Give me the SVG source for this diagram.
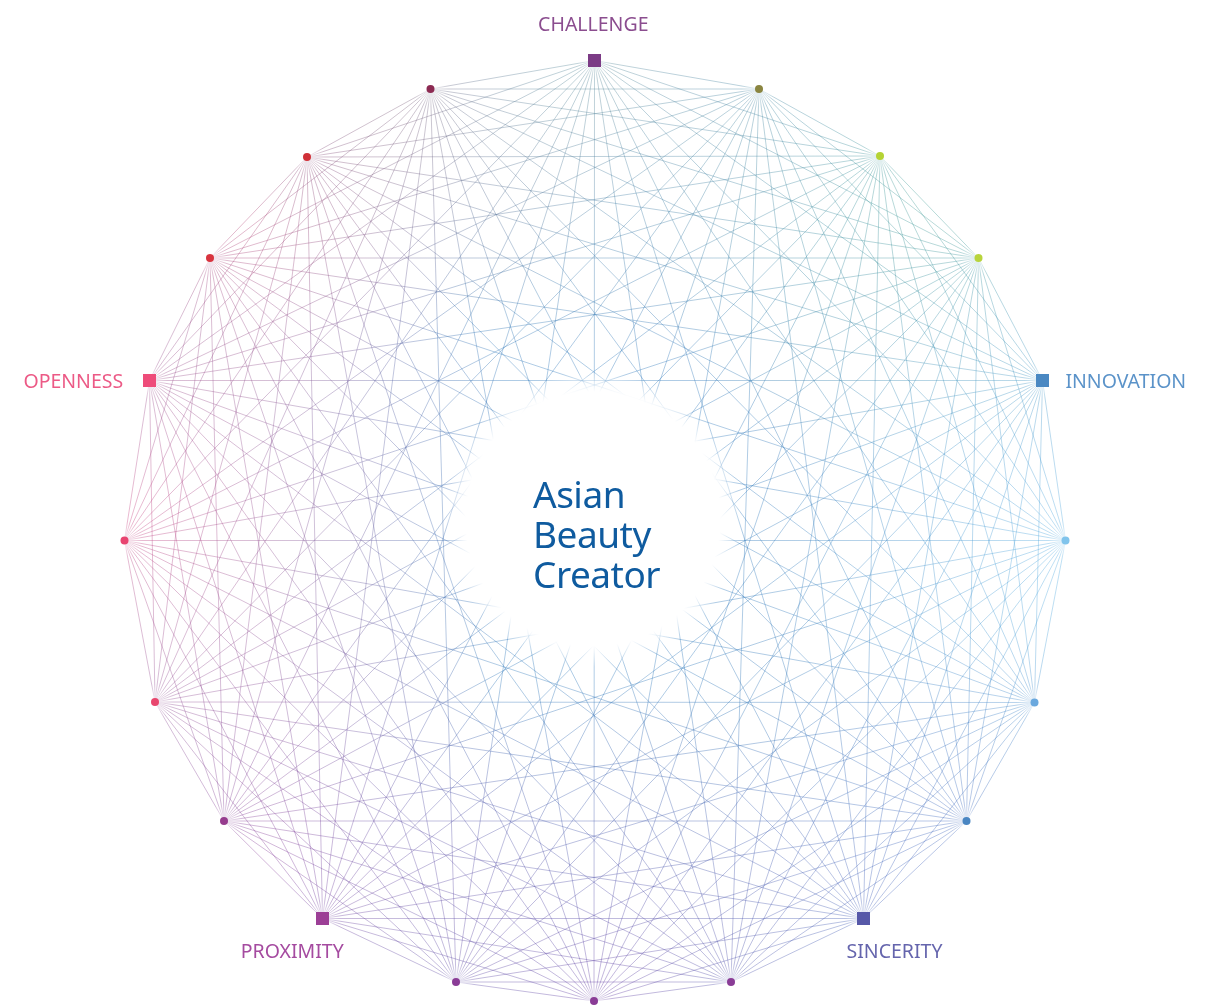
<svg xmlns="http://www.w3.org/2000/svg" width="1216" height="1006" viewBox="0 0 1216 1006">
<style>
.c path{fill:none;stroke:#000;stroke-opacity:.46;stroke-width:.85}
.lbl{font-family:"Noto Sans","Open Sans","DejaVu Sans",sans-serif;font-size:19.5px;text-anchor:middle}
.core{font-family:"Noto Sans","Open Sans","DejaVu Sans",sans-serif;font-size:37px;letter-spacing:-0.5px;fill:#0f5b9f}
.pf{fill:url(#pf)}
</style>
<defs>
<radialGradient id="hole"><stop offset=".86" stop-color="#fff"/><stop offset="1" stop-color="#fff" stop-opacity="0"/></radialGradient>
<radialGradient id="pf"><stop offset="0" stop-color="#fff" stop-opacity=".85"/><stop offset="1" stop-color="#fff" stop-opacity="0"/></radialGradient>
<radialGradient id="gT"><stop offset="0" stop-color="#5f8f9c"/><stop offset="1" stop-color="#5f8f9c" stop-opacity="0"/></radialGradient>
<radialGradient id="gTL"><stop offset="0" stop-color="#9a5072"/><stop offset="1" stop-color="#9a5072" stop-opacity="0"/></radialGradient>
<radialGradient id="gL"><stop offset="0" stop-color="#cc4a86"/><stop offset="1" stop-color="#cc4a86" stop-opacity="0"/></radialGradient>
<radialGradient id="gUL"><stop offset="0" stop-color="#c04a7c"/><stop offset="1" stop-color="#c04a7c" stop-opacity="0"/></radialGradient>
<radialGradient id="gBL"><stop offset="0" stop-color="#8c3c9c"/><stop offset="1" stop-color="#8c3c9c" stop-opacity="0"/></radialGradient>
<radialGradient id="gB"><stop offset="0" stop-color="#6c40a4"/><stop offset="1" stop-color="#6c40a4" stop-opacity="0"/></radialGradient>
<radialGradient id="gBR"><stop offset="0" stop-color="#4c68c0"/><stop offset="1" stop-color="#4c68c0" stop-opacity="0"/></radialGradient>
<radialGradient id="gR"><stop offset="0" stop-color="#5cb4e6"/><stop offset="1" stop-color="#5cb4e6" stop-opacity="0"/></radialGradient>
<radialGradient id="gTR"><stop offset="0" stop-color="#4aa496"/><stop offset="1" stop-color="#4aa496" stop-opacity="0"/></radialGradient>
<radialGradient id="gC"><stop offset="0" stop-color="#2c80c4"/><stop offset="1" stop-color="#2c80c4" stop-opacity="0"/></radialGradient>
</defs>
<rect width="1216" height="1006" fill="#fff"/>
<g id="connectors" class="c">
<path d="M594.5 60.5L759 89"/>
<path d="M594.5 60.5L880 156"/>
<path d="M594.5 60.5L978.5 258"/>
<path d="M594.5 60.5L1042.5 380.5"/>
<path d="M594.5 60.5L1065.5 540.5"/>
<path d="M594.5 60.5L1034.5 702.5"/>
<path d="M594.5 60.5L966.5 821"/>
<path d="M594.5 60.5L863.5 918.5"/>
<path d="M594.5 60.5L731 982"/>
<path d="M594.5 60.5L594 1001"/>
<path d="M594.5 60.5L456 982"/>
<path d="M594.5 60.5L322.5 918.5"/>
<path d="M594.5 60.5L224 821"/>
<path d="M594.5 60.5L155 702"/>
<path d="M594.5 60.5L124.5 540.5"/>
<path d="M594.5 60.5L149.5 380.5"/>
<path d="M594.5 60.5L210 258"/>
<path d="M594.5 60.5L307 157"/>
<path d="M594.5 60.5L430.5 89"/>
<path d="M759 89L880 156"/>
<path d="M759 89L978.5 258"/>
<path d="M759 89L1042.5 380.5"/>
<path d="M759 89L1065.5 540.5"/>
<path d="M759 89L1034.5 702.5"/>
<path d="M759 89L966.5 821"/>
<path d="M759 89L863.5 918.5"/>
<path d="M759 89L731 982"/>
<path d="M759 89L594 1001"/>
<path d="M759 89L456 982"/>
<path d="M759 89L322.5 918.5"/>
<path d="M759 89L224 821"/>
<path d="M759 89L155 702"/>
<path d="M759 89L124.5 540.5"/>
<path d="M759 89L149.5 380.5"/>
<path d="M759 89L210 258"/>
<path d="M759 89L307 157"/>
<path d="M759 89L430.5 89"/>
<path d="M880 156L978.5 258"/>
<path d="M880 156L1042.5 380.5"/>
<path d="M880 156L1065.5 540.5"/>
<path d="M880 156L1034.5 702.5"/>
<path d="M880 156L966.5 821"/>
<path d="M880 156L863.5 918.5"/>
<path d="M880 156L731 982"/>
<path d="M880 156L594 1001"/>
<path d="M880 156L456 982"/>
<path d="M880 156L322.5 918.5"/>
<path d="M880 156L224 821"/>
<path d="M880 156L155 702"/>
<path d="M880 156L124.5 540.5"/>
<path d="M880 156L149.5 380.5"/>
<path d="M880 156L210 258"/>
<path d="M880 156L307 157"/>
<path d="M880 156L430.5 89"/>
<path d="M978.5 258L1042.5 380.5"/>
<path d="M978.5 258L1065.5 540.5"/>
<path d="M978.5 258L1034.5 702.5"/>
<path d="M978.5 258L966.5 821"/>
<path d="M978.5 258L863.5 918.5"/>
<path d="M978.5 258L731 982"/>
<path d="M978.5 258L594 1001"/>
<path d="M978.5 258L456 982"/>
<path d="M978.5 258L322.5 918.5"/>
<path d="M978.5 258L224 821"/>
<path d="M978.5 258L155 702"/>
<path d="M978.5 258L124.5 540.5"/>
<path d="M978.5 258L149.5 380.5"/>
<path d="M978.5 258L210 258"/>
<path d="M978.5 258L307 157"/>
<path d="M978.5 258L430.5 89"/>
<path d="M1042.5 380.5L1065.5 540.5"/>
<path d="M1042.5 380.5L1034.5 702.5"/>
<path d="M1042.5 380.5L966.5 821"/>
<path d="M1042.5 380.5L863.5 918.5"/>
<path d="M1042.5 380.5L731 982"/>
<path d="M1042.5 380.5L594 1001"/>
<path d="M1042.5 380.5L456 982"/>
<path d="M1042.5 380.5L322.5 918.5"/>
<path d="M1042.5 380.5L224 821"/>
<path d="M1042.5 380.5L155 702"/>
<path d="M1042.5 380.5L124.5 540.5"/>
<path d="M1042.5 380.5L149.5 380.5"/>
<path d="M1042.5 380.5L210 258"/>
<path d="M1042.5 380.5L307 157"/>
<path d="M1042.5 380.5L430.5 89"/>
<path d="M1065.5 540.5L1034.5 702.5"/>
<path d="M1065.5 540.5L966.5 821"/>
<path d="M1065.5 540.5L863.5 918.5"/>
<path d="M1065.5 540.5L731 982"/>
<path d="M1065.5 540.5L594 1001"/>
<path d="M1065.5 540.5L456 982"/>
<path d="M1065.5 540.5L322.5 918.5"/>
<path d="M1065.5 540.5L224 821"/>
<path d="M1065.5 540.5L155 702"/>
<path d="M1065.5 540.5L124.5 540.5"/>
<path d="M1065.5 540.5L149.5 380.5"/>
<path d="M1065.5 540.5L210 258"/>
<path d="M1065.5 540.5L307 157"/>
<path d="M1065.5 540.5L430.5 89"/>
<path d="M1034.5 702.5L966.5 821"/>
<path d="M1034.5 702.5L863.5 918.5"/>
<path d="M1034.5 702.5L731 982"/>
<path d="M1034.5 702.5L594 1001"/>
<path d="M1034.5 702.5L456 982"/>
<path d="M1034.5 702.5L322.5 918.5"/>
<path d="M1034.5 702.5L224 821"/>
<path d="M1034.5 702.5L155 702"/>
<path d="M1034.5 702.5L124.5 540.5"/>
<path d="M1034.5 702.5L149.5 380.5"/>
<path d="M1034.5 702.5L210 258"/>
<path d="M1034.5 702.5L307 157"/>
<path d="M1034.5 702.5L430.5 89"/>
<path d="M966.5 821L863.5 918.5"/>
<path d="M966.5 821L731 982"/>
<path d="M966.5 821L594 1001"/>
<path d="M966.5 821L456 982"/>
<path d="M966.5 821L322.5 918.5"/>
<path d="M966.5 821L224 821"/>
<path d="M966.5 821L155 702"/>
<path d="M966.5 821L124.5 540.5"/>
<path d="M966.5 821L149.5 380.5"/>
<path d="M966.5 821L210 258"/>
<path d="M966.5 821L307 157"/>
<path d="M966.5 821L430.5 89"/>
<path d="M863.5 918.5L731 982"/>
<path d="M863.5 918.5L594 1001"/>
<path d="M863.5 918.5L456 982"/>
<path d="M863.5 918.5L322.5 918.5"/>
<path d="M863.5 918.5L224 821"/>
<path d="M863.5 918.5L155 702"/>
<path d="M863.5 918.5L124.5 540.5"/>
<path d="M863.5 918.5L149.5 380.5"/>
<path d="M863.5 918.5L210 258"/>
<path d="M863.5 918.5L307 157"/>
<path d="M863.5 918.5L430.5 89"/>
<path d="M731 982L594 1001"/>
<path d="M731 982L456 982"/>
<path d="M731 982L322.5 918.5"/>
<path d="M731 982L224 821"/>
<path d="M731 982L155 702"/>
<path d="M731 982L124.5 540.5"/>
<path d="M731 982L149.5 380.5"/>
<path d="M731 982L210 258"/>
<path d="M731 982L307 157"/>
<path d="M731 982L430.5 89"/>
<path d="M594 1001L456 982"/>
<path d="M594 1001L322.5 918.5"/>
<path d="M594 1001L224 821"/>
<path d="M594 1001L155 702"/>
<path d="M594 1001L124.5 540.5"/>
<path d="M594 1001L149.5 380.5"/>
<path d="M594 1001L210 258"/>
<path d="M594 1001L307 157"/>
<path d="M594 1001L430.5 89"/>
<path d="M456 982L322.5 918.5"/>
<path d="M456 982L224 821"/>
<path d="M456 982L155 702"/>
<path d="M456 982L124.5 540.5"/>
<path d="M456 982L149.5 380.5"/>
<path d="M456 982L210 258"/>
<path d="M456 982L307 157"/>
<path d="M456 982L430.5 89"/>
<path d="M322.5 918.5L224 821"/>
<path d="M322.5 918.5L155 702"/>
<path d="M322.5 918.5L124.5 540.5"/>
<path d="M322.5 918.5L149.5 380.5"/>
<path d="M322.5 918.5L210 258"/>
<path d="M322.5 918.5L307 157"/>
<path d="M322.5 918.5L430.5 89"/>
<path d="M224 821L155 702"/>
<path d="M224 821L124.5 540.5"/>
<path d="M224 821L149.5 380.5"/>
<path d="M224 821L210 258"/>
<path d="M224 821L307 157"/>
<path d="M224 821L430.5 89"/>
<path d="M155 702L124.5 540.5"/>
<path d="M155 702L149.5 380.5"/>
<path d="M155 702L210 258"/>
<path d="M155 702L307 157"/>
<path d="M155 702L430.5 89"/>
<path d="M124.5 540.5L149.5 380.5"/>
<path d="M124.5 540.5L210 258"/>
<path d="M124.5 540.5L307 157"/>
<path d="M124.5 540.5L430.5 89"/>
<path d="M149.5 380.5L210 258"/>
<path d="M149.5 380.5L307 157"/>
<path d="M149.5 380.5L430.5 89"/>
<path d="M210 258L307 157"/>
<path d="M210 258L430.5 89"/>
<path d="M307 157L430.5 89"/>
</g>
<g id="fades">
<circle cx="593" cy="519" r="148" fill="url(#hole)"/>
<circle class="pf" cx="594.5" cy="60.5" r="18"/>
<circle class="pf" cx="759" cy="89" r="18"/>
<circle class="pf" cx="880" cy="156" r="18"/>
<circle class="pf" cx="978.5" cy="258" r="18"/>
<circle class="pf" cx="1042.5" cy="380.5" r="18"/>
<circle class="pf" cx="1065.5" cy="540.5" r="18"/>
<circle class="pf" cx="1034.5" cy="702.5" r="18"/>
<circle class="pf" cx="966.5" cy="821" r="18"/>
<circle class="pf" cx="863.5" cy="918.5" r="18"/>
<circle class="pf" cx="731" cy="982" r="18"/>
<circle class="pf" cx="594" cy="1001" r="18"/>
<circle class="pf" cx="456" cy="982" r="18"/>
<circle class="pf" cx="322.5" cy="918.5" r="18"/>
<circle class="pf" cx="224" cy="821" r="18"/>
<circle class="pf" cx="155" cy="702" r="18"/>
<circle class="pf" cx="124.5" cy="540.5" r="18"/>
<circle class="pf" cx="149.5" cy="380.5" r="18"/>
<circle class="pf" cx="210" cy="258" r="18"/>
<circle class="pf" cx="307" cy="157" r="18"/>
<circle class="pf" cx="430.5" cy="89" r="18"/>
</g>
<g id="colour-field" style="mix-blend-mode:screen">
<rect width="1216" height="1006" fill="#3478b8"/>
<circle cx="950" cy="180" r="320" fill="url(#gTR)"/>
<circle cx="1090" cy="560" r="340" fill="url(#gR)"/>
<circle cx="930" cy="890" r="260" fill="url(#gBR)"/>
<circle cx="594" cy="1010" r="330" fill="url(#gB)"/>
<circle cx="250" cy="880" r="320" fill="url(#gBL)"/>
<circle cx="130" cy="520" r="400" fill="url(#gL)"/>
<circle cx="240" cy="220" r="230" fill="url(#gUL)"/>
<circle cx="400" cy="100" r="240" fill="url(#gTL)"/>
<circle cx="594" cy="60" r="300" fill="url(#gT)"/>
<circle cx="594" cy="525" r="230" fill="url(#gC)"/>
</g>
<g id="n-challenge"><rect x="588" y="54" width="13" height="13" fill="#7b3b85"/><text class="lbl" x="593.3" y="30.5" fill="#8b4d8f">CHALLENGE</text></g>
<g id="n-innovation"><rect x="1036" y="374" width="13" height="13" fill="#4a88c2"/><text class="lbl" x="1125.8" y="388.3" fill="#5b93c9">INNOVATION</text></g>
<g id="n-sincerity"><rect x="857" y="912" width="13" height="13" fill="#5658a8"/><text class="lbl" x="894.5" y="957.7" fill="#6565ad">SINCERITY</text></g>
<g id="n-proximity"><rect x="316" y="912" width="13" height="13" fill="#9c3f96"/><text class="lbl" x="292.2" y="957.7" fill="#a54ba0">PROXIMITY</text></g>
<g id="n-openness"><rect x="143" y="374" width="13" height="13" fill="#ee4c7a"/><text class="lbl" x="73.3" y="388.3" fill="#ec5a86">OPENNESS</text></g>
<g id="n1"><circle cx="759" cy="89" r="4" fill="#8a8540"/></g>
<g id="n2"><circle cx="880" cy="156" r="4" fill="#b5d334"/></g>
<g id="n3"><circle cx="978.5" cy="258" r="4" fill="#b8d43c"/></g>
<g id="n5"><circle cx="1065.5" cy="540.5" r="4" fill="#80c4ec"/></g>
<g id="n6"><circle cx="1034.5" cy="702.5" r="4" fill="#6aa8de"/></g>
<g id="n7"><circle cx="966.5" cy="821" r="4" fill="#4a86c2"/></g>
<g id="n9"><circle cx="731" cy="982" r="4" fill="#8a3c96"/></g>
<g id="n10"><circle cx="594" cy="1001" r="4" fill="#8a3c96"/></g>
<g id="n11"><circle cx="456" cy="982" r="4" fill="#8a3c96"/></g>
<g id="n13"><circle cx="224" cy="821" r="4" fill="#963c8e"/></g>
<g id="n14"><circle cx="155" cy="702" r="4" fill="#e8466e"/></g>
<g id="n15"><circle cx="124.5" cy="540.5" r="4" fill="#e84470"/></g>
<g id="n17"><circle cx="210" cy="258" r="4" fill="#d8333e"/></g>
<g id="n18"><circle cx="307" cy="157" r="4" fill="#d03038"/></g>
<g id="n19"><circle cx="430.5" cy="89" r="4" fill="#8c2a52"/></g>
<g id="n-core"><text class="core" x="533" y="508">Asian<tspan x="533" y="548">Beauty</tspan><tspan x="533" y="588">Creator</tspan></text></g>
</svg>
